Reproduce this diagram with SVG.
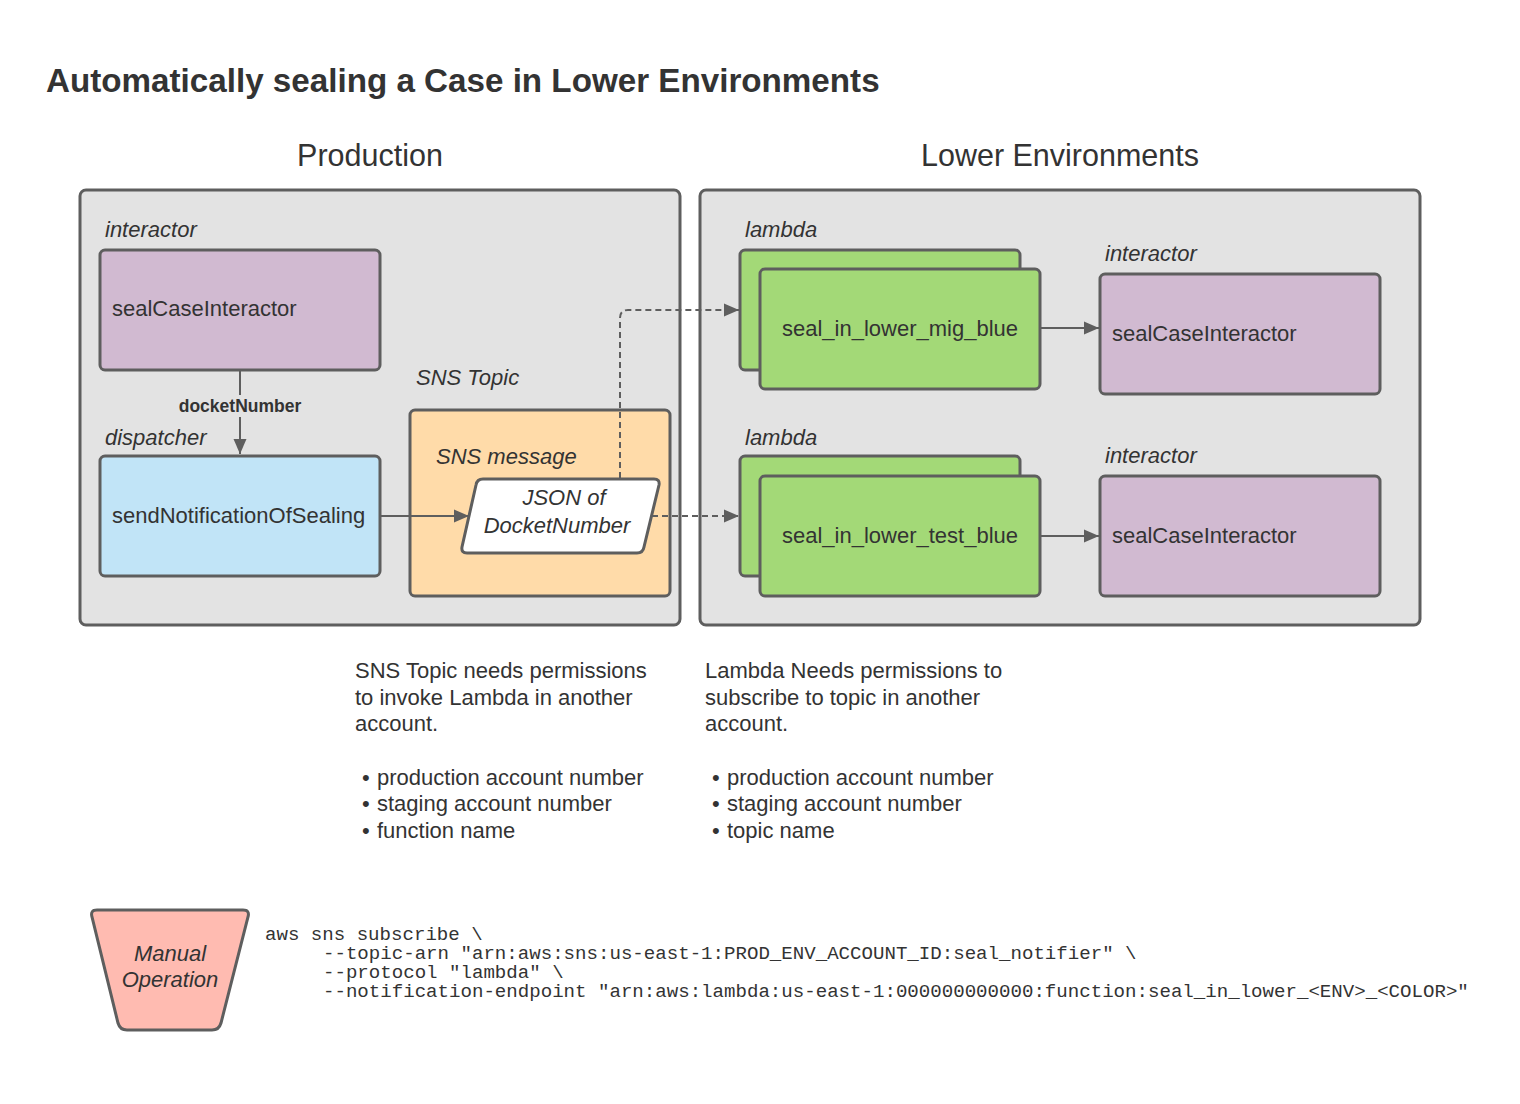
<svg xmlns="http://www.w3.org/2000/svg" width="1520" height="1104" viewBox="0 0 1520 1104">
<defs>
<marker id="arr" markerUnits="userSpaceOnUse" markerWidth="16" markerHeight="14" refX="15" refY="7" orient="auto">
<path d="M0,0.5 L15,7 L0,13.5 Z" fill="#5e5e5e"/>
</marker>
<style>
text{font-family:"Liberation Sans",Arial,sans-serif;fill:#333}
.title{font-size:33.2px;font-weight:bold}
.hdr{font-size:30.5px;text-anchor:middle}
.lbl{font-size:22px;font-style:italic}
.t{font-size:22px}
.mid{text-anchor:middle}
.code{font-family:"Liberation Mono","Courier New",monospace;font-size:19.1px}
.box{stroke:#5e5e5e;stroke-width:3}
.cont{fill:#e3e3e3;stroke:#5e5e5e;stroke-width:3}
.purple{fill:#d1bad1}
.blue{fill:#c1e4f7}
.orange{fill:#ffdba9}
.green{fill:#a3d977}
.salmon{fill:#ffbbb1}
.line{fill:none;stroke:#5e5e5e;stroke-width:2}
.dash{stroke-dasharray:6,4}
</style>
</defs>
<rect width="1520" height="1104" fill="#ffffff"/>
<text class="title" x="46" y="92">Automatically sealing a Case in Lower Environments</text>
<g id="production">
<text class="hdr" x="370" y="166">Production</text>
<rect class="cont" x="80" y="190" width="600" height="435" rx="6"/>
</g>
<g id="lower">
<text class="hdr" x="1060" y="166">Lower Environments</text>
<rect class="cont" x="700" y="190" width="720" height="435" rx="6"/>
</g>
<g id="prod-interactor">
<text class="lbl" x="105" y="237">interactor</text>
<rect class="box purple" x="100" y="250" width="280" height="120" rx="5"/>
<text class="t" x="112" y="316">sealCaseInteractor</text>
</g>
<g id="dispatcher">
<text class="lbl" x="105" y="445">dispatcher</text>
<rect class="box blue" x="100" y="456" width="280" height="120" rx="5"/>
<text class="t" x="112" y="523">sendNotificationOfSealing</text>
</g>
<g id="sns-topic">
<text class="lbl" x="416" y="385">SNS Topic</text>
<rect class="box orange" x="410" y="410" width="260" height="186" rx="5"/>
<text class="lbl" x="436" y="464">SNS message</text>
</g>
<g id="sns-message">
<path class="box" fill="#ffffff" d="M483,479 H654 Q660,479 659,485 L644,547 Q643,553 637,553 H467 Q461,553 462,547 L476,485 Q477,479 483,479 Z"/>
<text class="lbl mid" x="564" y="505">JSON of</text>
<text class="lbl mid" x="557" y="533">DocketNumber</text>
</g>
<g id="lambda-mig">
<text class="lbl" x="745" y="237">lambda</text>
<rect class="box green" x="740" y="250" width="280" height="120" rx="5"/>
<rect class="box green" x="760" y="269" width="280" height="120" rx="5"/>
<text class="t mid" x="900" y="336">seal_in_lower_mig_blue</text>
</g>
<g id="mig-interactor">
<text class="lbl" x="1105" y="261">interactor</text>
<rect class="box purple" x="1100" y="274" width="280" height="120" rx="5"/>
<text class="t" x="1112" y="341">sealCaseInteractor</text>
</g>
<g id="lambda-test">
<text class="lbl" x="745" y="445">lambda</text>
<rect class="box green" x="740" y="456" width="280" height="120" rx="5"/>
<rect class="box green" x="760" y="476" width="280" height="120" rx="5"/>
<text class="t mid" x="900" y="543">seal_in_lower_test_blue</text>
</g>
<g id="test-interactor">
<text class="lbl" x="1105" y="463">interactor</text>
<rect class="box purple" x="1100" y="476" width="280" height="120" rx="5"/>
<text class="t" x="1112" y="543">sealCaseInteractor</text>
</g>
<g id="connectors">
<path class="line" d="M240,371 V454" marker-end="url(#arr)"/>
<rect x="176" y="395" width="128" height="22" fill="#e3e3e3"/>
<text x="240" y="412" font-size="17.5" font-weight="bold" text-anchor="middle">docketNumber</text>
<path class="line" d="M381,516 H469" marker-end="url(#arr)"/>
<path class="line dash" d="M620,478 V318 Q620,310 628,310 H739" marker-end="url(#arr)"/>
<path class="line dash" d="M652,516 H739" marker-end="url(#arr)"/>
<path class="line" d="M1041,328 H1099" marker-end="url(#arr)"/>
<path class="line" d="M1041,536 H1099" marker-end="url(#arr)"/>
</g>
<g id="note-sns">
<text class="t" x="355" y="678">SNS Topic needs permissions</text>
<text class="t" x="355" y="705">to invoke Lambda in another</text>
<text class="t" x="355" y="731">account.</text>
<text class="t" x="362" y="785">•</text><text class="t" x="377" y="785">production account number</text>
<text class="t" x="362" y="811">•</text><text class="t" x="377" y="811">staging account number</text>
<text class="t" x="362" y="838">•</text><text class="t" x="377" y="838">function name</text>
</g>
<g id="note-lambda">
<text class="t" x="705" y="678">Lambda Needs permissions to</text>
<text class="t" x="705" y="705">subscribe to topic in another</text>
<text class="t" x="705" y="731">account.</text>
<text class="t" x="712" y="785">•</text><text class="t" x="727" y="785">production account number</text>
<text class="t" x="712" y="811">•</text><text class="t" x="727" y="811">staging account number</text>
<text class="t" x="712" y="838">•</text><text class="t" x="727" y="838">topic name</text>
</g>
<g id="manual-operation">
<path class="box salmon" d="M97,910 H243 Q250,910 248,917 L221,1023 Q219,1030 212,1030 H127 Q120,1030 118,1023 L92,917 Q90,910 97,910 Z"/>
<text class="lbl mid" x="170" y="961">Manual</text>
<text class="lbl mid" x="170" y="987">Operation</text>
</g>
<g id="command">
<text class="code" x="265" y="940">aws sns subscribe \</text>
<text class="code" x="323" y="959">--topic-arn "arn:aws:sns:us-east-1:PROD_ENV_ACCOUNT_ID:seal_notifier" \</text>
<text class="code" x="323" y="978">--protocol "lambda" \</text>
<text class="code" x="323" y="997">--notification-endpoint "arn:aws:lambda:us-east-1:000000000000:function:seal_in_lower_&lt;ENV&gt;_&lt;COLOR&gt;"</text>
</g>
</svg>
